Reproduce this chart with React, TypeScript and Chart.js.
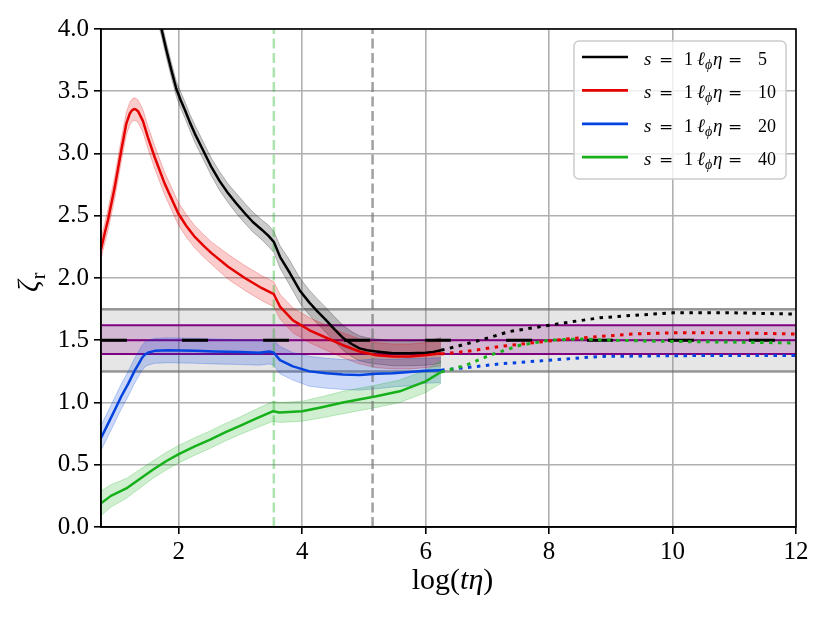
import React, { useEffect, useRef } from "react";
import { Chart, registerables } from "chart.js";

Chart.register(...registerables);

// ---------------- data ----------------
const X_MIN = 0.74;
const X_MAX = 12;
const Y_MIN = 0;
const Y_MAX = 4;
const xTickValues = [2, 4, 6, 8, 10, 12];
const yTickValues = [0, 0.5, 1, 1.5, 2, 2.5, 3, 3.5, 4];

const legendS = [1, 1, 1, 1];
const legendEll = [5, 10, 20, 40];
const lineColors = ["#000000", "#e50000", "#0343df", "#15b01a"];
const bandFills = [
  "rgba(0,0,0,0.2)",
  "rgba(229,0,0,0.2)",
  "rgba(3,67,223,0.2)",
  "rgba(21,176,26,0.2)",
];
const bandEdges = [
  "rgba(0,0,0,0.25)",
  "rgba(229,0,0,0.25)",
  "rgba(3,67,223,0.25)",
  "rgba(21,176,26,0.25)",
];

// [x, mean, half-width]
const blackSolid: number[][] = [
  [1.62, 4.2, 0.06], [1.72, 4.0, 0.06], [1.8, 3.83, 0.06], [1.88, 3.67, 0.06],
  [1.96, 3.52, 0.06], [2.03, 3.43, 0.065], [2.1, 3.35, 0.065], [2.18, 3.25, 0.065],
  [2.26, 3.16, 0.07], [2.4, 3.02, 0.07], [2.53, 2.89, 0.07], [2.66, 2.78, 0.075],
  [2.8, 2.68, 0.075], [2.93, 2.6, 0.08], [3.07, 2.52, 0.08], [3.2, 2.45, 0.08],
  [3.34, 2.39, 0.08], [3.45, 2.34, 0.085], [3.54, 2.29, 0.085], [3.64, 2.17, 0.09],
  [3.8, 2.04, 0.1], [3.96, 1.9, 0.1], [4.12, 1.8, 0.1], [4.25, 1.73, 0.1],
  [4.39, 1.66, 0.1], [4.52, 1.59, 0.1], [4.66, 1.52, 0.1], [4.8, 1.47, 0.1],
  [4.93, 1.435, 0.1], [5.05, 1.42, 0.1], [5.2, 1.41, 0.1], [5.47, 1.395, 0.1],
  [5.74, 1.395, 0.1], [6.0, 1.4, 0.1], [6.12, 1.405, 0.1], [6.25, 1.42, 0.1],
];
const blackDotted: number[][] = [
  [6.25, 1.42], [6.5, 1.45], [6.88, 1.5], [7.36, 1.57], [7.74, 1.6], [8.0, 1.62],
  [8.39, 1.65], [8.82, 1.68], [9.36, 1.7], [10.0, 1.72], [10.5, 1.72], [11.0, 1.72],
  [11.5, 1.715], [12.0, 1.71],
];

const redSolid: number[][] = [
  [0.74, 2.23, 0.08], [0.8, 2.36, 0.08], [0.855, 2.47, 0.085], [0.963, 2.73, 0.09],
  [1.07, 3.03, 0.09], [1.15, 3.24, 0.09], [1.206, 3.32, 0.09], [1.24, 3.345, 0.09],
  [1.276, 3.357, 0.09], [1.31, 3.352, 0.09], [1.34, 3.34, 0.09], [1.38, 3.3, 0.09],
  [1.42, 3.26, 0.09], [1.5, 3.13, 0.09], [1.61, 2.97, 0.09], [1.77, 2.76, 0.09],
  [1.99, 2.52, 0.09], [2.12, 2.42, 0.09], [2.26, 2.33, 0.09], [2.4, 2.26, 0.09],
  [2.53, 2.2, 0.09], [2.8, 2.09, 0.1], [3.07, 2.0, 0.1], [3.34, 1.92, 0.1],
  [3.54, 1.87, 0.1], [3.64, 1.77, 0.1], [3.85, 1.66, 0.1], [4.12, 1.58, 0.1],
  [4.39, 1.52, 0.1], [4.66, 1.46, 0.1], [4.93, 1.41, 0.1], [5.2, 1.38, 0.1],
  [5.47, 1.37, 0.1], [5.74, 1.37, 0.1], [6.0, 1.38, 0.1], [6.25, 1.395, 0.1],
];
const redDotted: number[][] = [
  [6.25, 1.39], [6.66, 1.41], [7.2, 1.45], [7.74, 1.48], [8.28, 1.51], [8.82, 1.53],
  [9.36, 1.55], [10.0, 1.56], [11.0, 1.56], [12.0, 1.55],
];

const blueSolid: number[][] = [
  [0.74, 0.715, 0.1], [0.855, 0.83, 0.1], [0.963, 0.94, 0.1], [1.07, 1.05, 0.1],
  [1.18, 1.15, 0.1], [1.29, 1.26, 0.1], [1.35, 1.31, 0.1], [1.4, 1.355, 0.1],
  [1.45, 1.385, 0.1], [1.5, 1.4, 0.1], [1.61, 1.415, 0.1], [1.83, 1.42, 0.1],
  [2.26, 1.415, 0.1], [2.58, 1.41, 0.1], [3.0, 1.405, 0.1], [3.3, 1.4, 0.1],
  [3.47, 1.41, 0.1], [3.54, 1.4, 0.1], [3.64, 1.34, 0.11], [3.85, 1.29, 0.11],
  [4.12, 1.25, 0.12], [4.39, 1.235, 0.12], [4.66, 1.225, 0.12], [4.93, 1.22, 0.12],
  [5.2, 1.23, 0.12], [5.47, 1.235, 0.11], [5.74, 1.245, 0.11], [6.0, 1.255, 0.1],
  [6.25, 1.26, 0.1],
];
const blueDotted: number[][] = [
  [6.25, 1.26], [6.66, 1.28], [7.2, 1.31], [8.0, 1.34], [8.82, 1.37], [10.0, 1.376],
  [11.0, 1.378], [12.0, 1.377],
];

const greenSolid: number[][] = [
  [0.74, 0.19, 0.1], [0.9, 0.25, 0.09], [1.15, 0.31, 0.08], [1.35, 0.38, 0.075],
  [1.58, 0.46, 0.07], [1.8, 0.53, 0.07], [2.0, 0.585, 0.07], [2.25, 0.645, 0.07],
  [2.5, 0.7, 0.07], [2.75, 0.76, 0.07], [3.0, 0.815, 0.07], [3.25, 0.87, 0.075],
  [3.53, 0.93, 0.08], [3.63, 0.92, 0.08], [4.0, 0.93, 0.08], [4.3, 0.96, 0.085],
  [4.66, 1.0, 0.09], [5.2, 1.05, 0.09], [5.58, 1.09, 0.09], [6.0, 1.17, 0.09],
  [6.25, 1.245, 0.09],
];
const greenDotted: number[][] = [
  [6.25, 1.245], [6.66, 1.3], [7.04, 1.38], [7.53, 1.46], [8.0, 1.5], [8.5, 1.51],
  [9.0, 1.5], [10.0, 1.49], [11.0, 1.485], [12.0, 1.478],
];

const grayBand = [1.25, 1.75];
const purpleBand = [1.39, 1.62];
const referenceLevel = 1.5;
const markerGreenX = 3.54;
const markerGrayX = 5.14;

// ---------------- helpers ----------------
const SERIF = "'Liberation Serif', 'DejaVu Serif', serif";

function hline(y: number) {
  return [
    { x: X_MIN, y },
    { x: X_MAX, y },
  ];
}
function vline(x: number) {
  return [
    { x, y: Y_MIN },
    { x, y: Y_MAX },
  ];
}

function buildDatasets() {
  const ds: any[] = [];
  const base = { pointRadius: 0, tension: 0, fill: false, borderJoinStyle: "round" };

  // gray band
  const gLow = ds.length;
  ds.push({ ...base, data: hline(grayBand[0]), borderColor: "rgba(110,110,110,0.7)", borderWidth: 2.5, order: 100 });
  ds.push({ ...base, data: hline(grayBand[1]), borderColor: "rgba(110,110,110,0.7)", borderWidth: 2.5, order: 100,
    fill: { target: gLow }, backgroundColor: "rgba(128,128,128,0.2)" });
  // purple band
  const pLow = ds.length;
  ds.push({ ...base, data: hline(purpleBand[0]), borderColor: "#800080", borderWidth: 2, order: 90 });
  ds.push({ ...base, data: hline(purpleBand[1]), borderColor: "#800080", borderWidth: 2, order: 90,
    fill: { target: pLow }, backgroundColor: "rgba(128,0,128,0.2)" });
  ds.push({ ...base, data: hline(referenceLevel), borderColor: "#800080", borderWidth: 2, order: 89 });

  // error bands
  const solids = [blackSolid, redSolid, blueSolid, greenSolid];
  solids.forEach((s, i) => {
    const low = ds.length;
    ds.push({ ...base, data: s.map((p) => ({ x: p[0], y: p[1] - p[2] })), borderColor: bandEdges[i], borderWidth: 1, order: 60 - i });
    ds.push({ ...base, data: s.map((p) => ({ x: p[0], y: p[1] + p[2] })), borderColor: bandEdges[i], borderWidth: 1, order: 60 - i,
      fill: { target: low }, backgroundColor: bandFills[i] });
  });

  // vertical markers
  ds.push({ ...base, data: vline(markerGreenX), borderColor: "rgba(21,176,26,0.35)", borderWidth: 2.5, borderDash: [10, 4.5], order: 40 });
  ds.push({ ...base, data: vline(markerGrayX), borderColor: "rgba(120,120,120,0.7)", borderWidth: 2.5, borderDash: [10, 4.5], order: 40 });

  // reference dashed black line
  ds.push({ ...base, data: hline(referenceLevel), borderColor: "#000000", borderWidth: 3, borderDash: [26, 55], borderCapStyle: "butt", order: 30 });

  // dotted extrapolations
  const dotted = [blackDotted, redDotted, blueDotted, greenDotted];
  dotted.forEach((s, i) => {
    ds.push({ ...base, data: s.map((p) => ({ x: p[0], y: p[1] })), borderColor: lineColors[i], borderWidth: 3,
      borderDash: [3.5, 5.5], borderCapStyle: "butt", order: 20 - i });
  });

  // main lines
  solids.forEach((s, i) => {
    ds.push({ ...base, data: s.map((p) => ({ x: p[0], y: p[1] })), borderColor: lineColors[i], borderWidth: 2.5, order: 10 - i });
  });
  return ds;
}

const framePlugin = {
  id: "frame",
  afterDatasetsDraw(chart: any) {
    const { ctx, chartArea: a } = chart;
    ctx.save();
    ctx.strokeStyle = "#000";
    ctx.lineWidth = 1.6;
    ctx.strokeRect(a.left, a.top, a.right - a.left, a.bottom - a.top);
    ctx.restore();
  },
};

const textPlugin = {
  id: "mathText",
  afterDraw(chart: any) {
    const { ctx, chartArea: a } = chart;
    ctx.save();
    ctx.fillStyle = "#000";
    ctx.textBaseline = "alphabetic";
    ctx.textAlign = "left";

    // x-axis title: log(tη)
    const cx = (a.left + a.right) / 2 + 4;
    const by = 589;
    const parts: [string, string][] = [
      ["log(", `30px ${SERIF}`],
      ["tη", `italic 30px ${SERIF}`],
      [")", `30px ${SERIF}`],
    ];
    let total = 0;
    parts.forEach(([t, f]) => { ctx.font = f; total += ctx.measureText(t).width; });
    let px = cx - total / 2;
    parts.forEach(([t, f]) => { ctx.font = f; ctx.fillText(t, px, by); px += ctx.measureText(t).width; });

    // y-axis title: ζ_r (rotated)
    ctx.save();
    ctx.translate(38, 292);
    ctx.rotate(-Math.PI / 2);
    ctx.font = `italic 29px ${SERIF}`;
    ctx.fillText("ζ", 0, 0);
    const zw = ctx.measureText("ζ").width;
    ctx.font = `20px ${SERIF}`;
    ctx.fillText("r", zw + 1, 7);
    ctx.restore();

    // legend box
    const bx = 574, bY = 41, bw = 212, bh = 138, r = 5;
    ctx.beginPath();
    ctx.moveTo(bx + r, bY);
    ctx.arcTo(bx + bw, bY, bx + bw, bY + bh, r);
    ctx.arcTo(bx + bw, bY + bh, bx, bY + bh, r);
    ctx.arcTo(bx, bY + bh, bx, bY, r);
    ctx.arcTo(bx, bY, bx + bw, bY, r);
    ctx.closePath();
    ctx.fillStyle = "rgba(255,255,255,0.8)";
    ctx.fill();
    ctx.strokeStyle = "#cccccc";
    ctx.lineWidth = 1.5;
    ctx.stroke();

    legendEll.forEach((ell, i) => {
      const y = 57 + i * 33.4;
      ctx.strokeStyle = lineColors[i];
      ctx.lineWidth = 2.7;
      ctx.beginPath();
      ctx.moveTo(582, y);
      ctx.lineTo(628, y);
      ctx.stroke();

      ctx.fillStyle = "#000";
      const tx = 644;
      const base = y + 8;
      const it = `italic 19px ${SERIF}`;
      const rm = `18px ${SERIF}`;
      const eq = `17px 'DejaVu Serif', serif`;
      ctx.font = it; ctx.fillText("s", tx, base);
      ctx.font = eq; ctx.fillText("=", tx + 15, base);
      ctx.font = rm; ctx.fillText(String(legendS[i]), tx + 40, base);
      ctx.font = it; ctx.fillText("ℓ", tx + 53, base);
      ctx.font = `italic 14px ${SERIF}`; ctx.fillText("ϕ", tx + 61, base + 4);
      ctx.font = it; ctx.fillText("η", tx + 69, base);
      ctx.font = eq; ctx.fillText("=", tx + 84, base);
      ctx.font = rm; ctx.fillText(String(ell), tx + 114, base);
    });
    ctx.restore();
  },
};

export default function App() {
  const ref = useRef<HTMLCanvasElement | null>(null);

  useEffect(() => {
    if (!ref.current) return;
    const chart = new Chart(ref.current, {
      type: "line",
      data: { datasets: buildDatasets() },
      options: {
        animation: false,
        responsive: false,
        devicePixelRatio: 1,
        events: [],
        layout: { padding: { left: 0, right: 34, top: 29, bottom: 0 } },
        plugins: {
          legend: { display: false },
          tooltip: { enabled: false },
          title: { display: false },
        },
        scales: {
          x: {
            type: "linear",
            min: X_MIN,
            max: X_MAX,
            afterBuildTicks: (s: any) => {
              s.ticks = xTickValues.map((v) => ({ value: v }));
            },
            afterFit: (s: any) => {
              s.height = 96;
            },
            grid: { color: "#b0b0b0", lineWidth: 1.6, tickColor: "#000", tickLength: 7, tickWidth: 1.6 },
            border: { color: "#000", width: 1.6 },
            ticks: {
              color: "#000",
              font: { family: SERIF, size: 25 },
              padding: 3,
              maxRotation: 0,
              autoSkip: false,
              callback: (v: any) => String(v),
            },
          },
          y: {
            type: "linear",
            min: Y_MIN,
            max: Y_MAX,
            afterBuildTicks: (s: any) => {
              s.ticks = yTickValues.map((v) => ({ value: v }));
            },
            afterFit: (s: any) => {
              s.width = 101;
            },
            grid: { color: "#b0b0b0", lineWidth: 1.6, tickColor: "#000", tickLength: 7, tickWidth: 1.6 },
            border: { color: "#000", width: 1.6 },
            ticks: {
              color: "#000",
              font: { family: SERIF, size: 25 },
              padding: 5,
              autoSkip: false,
              callback: (v: any) => Number(v).toFixed(1),
            },
          },
        },
      } as any,
      plugins: [framePlugin, textPlugin],
    });
    return () => chart.destroy();
  }, []);

  return (
    <div style={{ position: "absolute", left: 0, top: 0, width: 830, height: 623, background: "#fff" }}>
      <canvas ref={ref} width={830} height={623} style={{ display: "block" }} />
    </div>
  );
}
